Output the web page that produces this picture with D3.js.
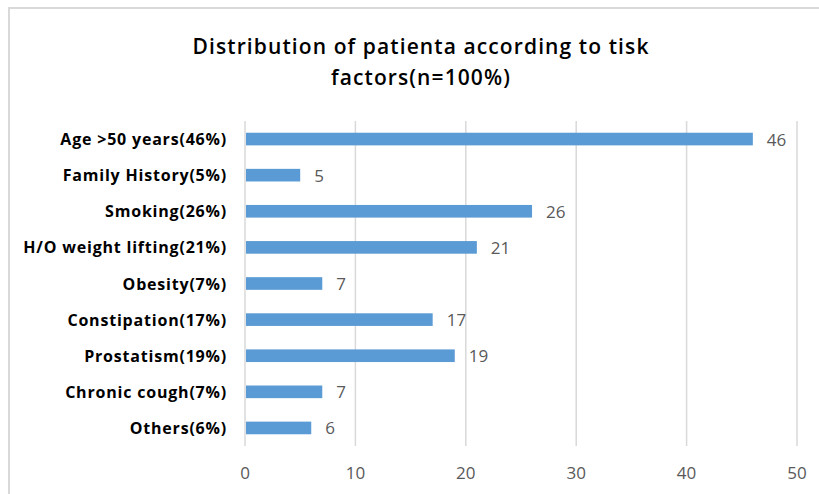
<!DOCTYPE html>
<html>
<head>
<meta charset="utf-8">
<script src="https://cdn.jsdelivr.net/npm/d3@7"></script>
<style>
	body { margin: 0; background: #fff; }
	svg { display: block; }
	.title-text { font-family: "Open Sans", sans-serif; font-size: 21px; font-weight: 600; fill: #000; text-anchor: middle; letter-spacing: 1.1px; }
	.cat-label { font-family: "Open Sans", sans-serif; font-size: 16px; font-weight: 700; fill: #000; text-anchor: end; dominant-baseline: central; letter-spacing: 0.8px; }
	.value-text { font-family: "Open Sans", sans-serif; font-size: 17px; fill: #595959; dominant-baseline: central; }
	.tick-text { font-family: "Open Sans", sans-serif; font-size: 17px; fill: #595959; text-anchor: middle; dominant-baseline: central; }
</style>
</head>
<body>
<svg id="chart" width="819" height="494"></svg>
<script>
const categories = [
	"Age >50 years(46%)",
	"Family History(5%)",
	"Smoking(26%)",
	"H/O weight lifting(21%)",
	"Obesity(7%)",
	"Constipation(17%)",
	"Prostatism(19%)",
	"Chronic cough(7%)",
	"Others(6%)"
];
const values = [46, 5, 26, 21, 7, 17, 19, 7, 6];
const xTicks = [0, 10, 20, 30, 40, 50];
const titleLines = ["Distribution of patienta according to tisk", "factors(n=100%)"];

const width = 819, height = 494;
const margin = { top: 121, right: 22, bottom: 48, left: 245 };

const svg = d3.select("#chart");

// outer chart border (only left/top visible in frame)
svg.append("rect")
	.attr("x", 9)
	.attr("y", 8)
	.attr("width", width + 10)
	.attr("height", height + 10)
	.attr("fill", "#fff")
	.attr("stroke", "#d9d9d9")
	.attr("stroke-width", 2);

const x = d3.scaleLinear()
	.domain([0, 50])
	.range([margin.left, width - margin.right]);

const y = d3.scaleBand()
	.domain(categories)
	.range([margin.top, height - margin.bottom])
	.paddingInner(0.65)
	.paddingOuter(0.325);

// title
const titleGroup = svg.append("g").attr("transform", `translate(421, 0)`);
titleGroup.selectAll("text")
	.data(titleLines)
	.join("text")
	.attr("class", "title-text")
	.attr("y", (d, i) => 54 + i * 31)
	.text(d => d);

// gridlines
svg.append("g")
	.selectAll("line")
	.data(xTicks.slice(1))
	.join("line")
	.attr("x1", d => x(d))
	.attr("x2", d => x(d))
	.attr("y1", margin.top)
	.attr("y2", height - margin.bottom)
	.attr("stroke", "#d9d9d9")
	.attr("stroke-width", 1.5);

// category axis line
svg.append("line")
	.attr("x1", x(0))
	.attr("x2", x(0))
	.attr("y1", margin.top)
	.attr("y2", height - margin.bottom)
	.attr("stroke", "#d9d9d9")
	.attr("stroke-width", 1.5);

// bars
svg.append("g")
	.selectAll("rect")
	.data(values)
	.join("rect")
	.attr("x", x(0) + 1)
	.attr("y", (d, i) => y(categories[i]))
	.attr("width", d => x(d) - x(0) - 1)
	.attr("height", y.bandwidth())
	.attr("fill", "#5b9bd5");

// value labels
svg.append("g")
	.selectAll("text")
	.data(values)
	.join("text")
	.attr("class", "value-text")
	.attr("x", d => x(d) + 14)
	.attr("y", (d, i) => y(categories[i]) + y.bandwidth() / 2)
	.text(d => d);

// category labels
svg.append("g")
	.selectAll("text")
	.data(categories)
	.join("text")
	.attr("class", "cat-label")
	.attr("x", 227)
	.attr("y", d => y(d) + y.bandwidth() / 2)
	.text(d => d);

// x tick labels
svg.append("g")
	.selectAll("text")
	.data(xTicks)
	.join("text")
	.attr("class", "tick-text")
	.attr("x", d => x(d))
	.attr("y", 472)
	.text(d => d);
</script>
</body>
</html>
